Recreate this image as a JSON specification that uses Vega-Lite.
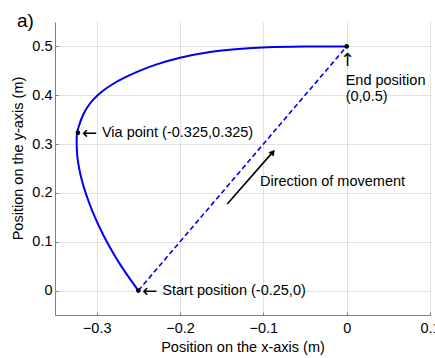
{
  "$schema": "https://vega.github.io/schema/vega-lite/v6.json",
  "width": 375,
  "height": 293,
  "autosize": {"type": "none"},
  "padding": {"left": 55, "top": 22, "right": 5, "bottom": 43},
  "background": "white",
  "title": {"text": "a)", "anchor": "start", "frame": "group", "fontSize": 19, "font": "Liberation Sans", "fontWeight": "normal", "color": "black", "baseline": "alphabetic", "offset": 0, "dx": -38, "dy": 24},
  "config": {
    "view": {"stroke": null},
    "font": "Liberation Sans",
    "axis": {
      "labelFont": "Liberation Sans", "labelFontSize": 14.5, "labelColor": "black",
      "titleFont": "Liberation Sans", "titleFontSize": 14.5, "titleFontWeight": "normal", "titleColor": "black",
      "gridColor": "#c4c4c4", "gridDash": [1, 1], "gridWidth": 1,
      "domainColor": "#808080", "tickColor": "#808080", "tickSize": -3
    }
  },
  "layer": [
    {
      "data": {"values": [
        {"i": 0, "x": -0.25, "y": 0.0},
        {"i": 1, "x": -0.2605, "y": 0.025},
        {"i": 2, "x": -0.2705, "y": 0.05},
        {"i": 3, "x": -0.2795, "y": 0.075},
        {"i": 4, "x": -0.2878, "y": 0.1},
        {"i": 5, "x": -0.2953, "y": 0.125},
        {"i": 6, "x": -0.302, "y": 0.15},
        {"i": 7, "x": -0.308, "y": 0.175},
        {"i": 8, "x": -0.3132, "y": 0.2},
        {"i": 9, "x": -0.3176, "y": 0.225},
        {"i": 10, "x": -0.321, "y": 0.25},
        {"i": 11, "x": -0.3232, "y": 0.275},
        {"i": 12, "x": -0.324, "y": 0.3},
        {"i": 13, "x": -0.3235, "y": 0.323},
        {"i": 14, "x": -0.3205, "y": 0.341},
        {"i": 15, "x": -0.3165, "y": 0.359},
        {"i": 16, "x": -0.311, "y": 0.376},
        {"i": 17, "x": -0.3035, "y": 0.392},
        {"i": 18, "x": -0.2935, "y": 0.4075},
        {"i": 19, "x": -0.281, "y": 0.4225},
        {"i": 20, "x": -0.266, "y": 0.4365},
        {"i": 21, "x": -0.248, "y": 0.4505},
        {"i": 22, "x": -0.228, "y": 0.4632},
        {"i": 23, "x": -0.2, "y": 0.4768},
        {"i": 24, "x": -0.164, "y": 0.4887},
        {"i": 25, "x": -0.13, "y": 0.4948},
        {"i": 26, "x": -0.095, "y": 0.4983},
        {"i": 27, "x": -0.05, "y": 0.4998},
        {"i": 28, "x": 0.0, "y": 0.5}
      ]},
      "mark": {"type": "line", "color": "#0000f0", "strokeWidth": 2, "interpolate": "catmull-rom"},
      "encoding": {
        "x": {"field": "x", "type": "quantitative", "scale": {"domain": [-0.35, 0.1], "nice": false, "zero": false},
              "axis": {"values": [-0.3, -0.2, -0.1, 0, 0.1], "format": "~g", "title": "Position on the x-axis (m)", "labelPadding": 9, "titlePadding": 6, "labelFlush": false}},
        "y": {"field": "y", "type": "quantitative", "scale": {"domain": [-0.05, 0.55], "nice": false, "zero": false},
              "axis": {"values": [0, 0.1, 0.2, 0.3, 0.4, 0.5], "format": "~g", "title": "Position on the y-axis (m)", "labelPadding": 6, "titleX": -37, "titleY": 136, "titleBaseline": "middle", "titleAlign": "center", "labelFlush": false}},
        "order": {"field": "i", "type": "quantitative"}
      }
    },
    {
      "data": {"values": [{"x": -0.25, "y": 0.0}, {"x": 0.0, "y": 0.5}]},
      "mark": {"type": "line", "color": "#0000f0", "strokeWidth": 1.6, "strokeDash": [5, 3]},
      "encoding": {"x": {"field": "x", "type": "quantitative"}, "y": {"field": "y", "type": "quantitative"}}
    },
    {
      "data": {"values": [{"x": -0.1433, "y": 0.1775}, {"x": -0.0895, "y": 0.282}]},
      "mark": {"type": "line", "color": "black", "strokeWidth": 1.6},
      "encoding": {"x": {"field": "x", "type": "quantitative"}, "y": {"field": "y", "type": "quantitative"}}
    },
    {
      "data": {"values": [{"x": -0.0885, "y": 0.2835}]},
      "mark": {"type": "point", "shape": "triangle-up", "filled": true, "color": "black", "size": 45, "angle": 41, "opacity": 1},
      "encoding": {"x": {"field": "x", "type": "quantitative"}, "y": {"field": "y", "type": "quantitative"}}
    },
    {
      "data": {"values": [{"x": -0.25, "y": 0.0}, {"x": -0.3225, "y": 0.323}, {"x": 0.0, "y": 0.5}]},
      "mark": {"type": "circle", "color": "black", "size": 22, "opacity": 1},
      "encoding": {"x": {"field": "x", "type": "quantitative"}, "y": {"field": "y", "type": "quantitative"}}
    },
    {
      "data": {"values": [
        {"x": -0.25, "y": 0.0, "label": "←"},
        {"x": -0.3225, "y": 0.323, "label": "←"}
      ]},
      "mark": {"type": "text", "align": "left", "baseline": "middle", "dx": 4, "dy": 1, "fontSize": 18, "font": "DejaVu Sans", "color": "black"},
      "encoding": {"x": {"field": "x", "type": "quantitative"}, "y": {"field": "y", "type": "quantitative"}, "text": {"field": "label"}}
    },
    {
      "data": {"values": [
        {"x": -0.25, "y": 0.0, "label": "Start position (-0.25,0)"},
        {"x": -0.3225, "y": 0.323, "label": "Via point (-0.325,0.325)"}
      ]},
      "mark": {"type": "text", "align": "left", "baseline": "middle", "dx": 24, "fontSize": 14.5, "font": "Liberation Sans", "color": "black"},
      "encoding": {"x": {"field": "x", "type": "quantitative"}, "y": {"field": "y", "type": "quantitative"}, "text": {"field": "label"}}
    },
    {
      "data": {"values": [{"x": -0.104, "y": 0.2225, "label": "Direction of movement"}]},
      "mark": {"type": "text", "align": "left", "baseline": "middle", "fontSize": 14.5, "font": "Liberation Sans", "color": "black"},
      "encoding": {"x": {"field": "x", "type": "quantitative"}, "y": {"field": "y", "type": "quantitative"}, "text": {"field": "label"}}
    },
    {
      "data": {"values": [{"x": 0.0, "y": 0.5, "label": "↑"}]},
      "mark": {"type": "text", "align": "center", "baseline": "middle", "dx": 1, "dy": 15, "fontSize": 18, "font": "DejaVu Sans", "color": "black"},
      "encoding": {"x": {"field": "x", "type": "quantitative"}, "y": {"field": "y", "type": "quantitative"}, "text": {"field": "label"}}
    },
    {
      "data": {"values": [{"x": 0.0, "y": 0.5, "label": ["End position", "(0,0.5)"]}]},
      "mark": {"type": "text", "align": "left", "baseline": "alphabetic", "dx": -1, "dy": 39, "lineHeight": 16, "fontSize": 14.5, "font": "Liberation Sans", "color": "black"},
      "encoding": {"x": {"field": "x", "type": "quantitative"}, "y": {"field": "y", "type": "quantitative"}, "text": {"field": "label"}}
    }
  ]
}
